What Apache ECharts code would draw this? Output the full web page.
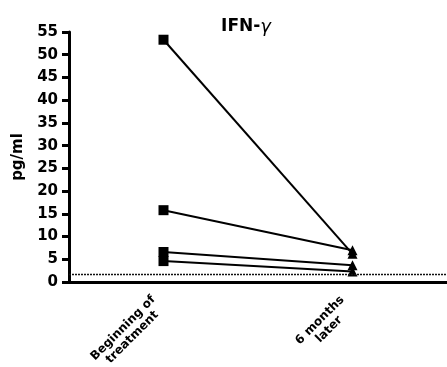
<!DOCTYPE html>
<html><head><meta charset="utf-8">
<script src="https://cdn.jsdelivr.net/npm/echarts@6/dist/echarts.min.js"></script>
<style>html,body{margin:0;padding:0;background:#fff}#c{width:447px;height:367px}</style>
</head><body><div id="c"></div>
<script>
const categories = ['Beginning of\ntreatment', '6 months\nlater'];
const subjectA = [53.3, 6.2];
const subjectB = [15.8, 7.0];
const subjectC = [6.6, 3.7];
const subjectD = [4.6, 2.3];
const detectionLimit = 1.6;
const yTicks = {min: 0, max: 55, interval: 5};

const FONT = 'DejaVu Sans';
const xFontSize = 12;
const subjects = [subjectA, subjectB, subjectC, subjectD];
const symbols = ['rect', 'triangle'];
const series = subjects.map((vals, i) => ({
  type: 'line',
  data: vals.map((v, j) => ({value: v, symbol: symbols[j], symbolSize: 10})),
  lineStyle: {color: '#000', width: 2},
  itemStyle: {color: '#000'},
  z: 3,
  markLine: i === 0 ? {
    silent: true, symbol: 'none', label: {show: false},
    lineStyle: {color: '#111', type: [2, 1], width: 1.4},
    data: [{yAxis: detectionLimit}]
  } : undefined
}));

// per-label rich styles so lines are centred within each rotated label
const ctx = document.createElement('canvas').getContext('2d');
ctx.font = 'bold ' + xFontSize + 'px "' + FONT + '"';
const rich = {};
categories.forEach((c, i) => {
  const w = Math.max(...c.split('\n').map(l => ctx.measureText(l).width));
  rich['c' + i] = {width: Math.ceil(w) + 1, align: 'center', fontFamily: FONT, fontWeight: 'bold',
    fontSize: xFontSize, color: '#000', lineHeight: 13};
});

const chart = echarts.init(document.getElementById('c'));
chart.setOption({
  animation: false,
  title: {text: '{a|IFN-}{b|γ}', left: 241, top: 13, textAlign: 'center',
    textStyle: {rich: {
      a: {fontFamily: FONT, fontWeight: 'bold', fontSize: 17, color: '#000'},
      b: {fontFamily: FONT, fontStyle: 'italic', fontWeight: 'normal', fontSize: 18, color: '#000'}
    }}},
  grid: {left: 69, right: 0, top: 32, bottom: 85, containLabel: false, outerBoundsMode: 'none'},
  xAxis: {
    type: 'category', data: categories, boundaryGap: true,
    axisLine: {lineStyle: {color: '#000', width: 3}},
    axisTick: {alignWithLabel: true, length: 7, lineStyle: {color: '#000', width: 3}},
    axisLabel: {rotate: 45, margin: 15, padding: [0, 7, 0, 0], align: 'right',
      formatter: (v, idx) => v.split('\n').map(l => '{c' + idx + '|' + l + '}').join('\n'),
      rich: rich}
  },
  yAxis: {
    type: 'value', min: yTicks.min, max: yTicks.max, interval: yTicks.interval,
    name: 'pg/ml', nameLocation: 'middle', nameGap: 43, nameRotate: 90,
    nameTextStyle: {color: '#000', fontWeight: 'bold', fontSize: 15, fontFamily: FONT},
    splitLine: {show: false},
    axisLine: {show: true, lineStyle: {color: '#000', width: 3}},
    axisTick: {show: true, length: 7, lineStyle: {color: '#000', width: 3}},
    axisLabel: {color: '#000', fontWeight: 'bold', fontSize: 15, margin: 11, fontFamily: FONT}
  },
  series: series
});
</script></body></html>
